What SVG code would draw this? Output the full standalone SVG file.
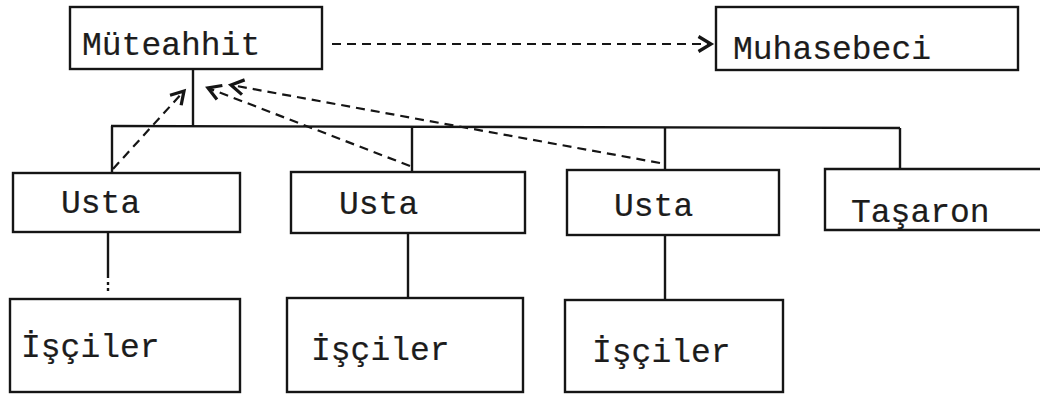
<svg xmlns="http://www.w3.org/2000/svg" width="1040" height="397" viewBox="0 0 1040 397">
  <style>
    .box { fill: none; stroke: #151515; stroke-width: 2.4; }
    .lbl { font-family: "Liberation Mono", "Courier New", monospace; font-size: 33px; fill: #1c1c1c; stroke: #1c1c1c; stroke-width: 0.2; }
    .link { fill: none; stroke: #151515; stroke-width: 2.4; }
    .dash { fill: none; stroke: #151515; stroke-width: 2.2; stroke-dasharray: 9 6; }
  </style>
  <defs>
    <marker id="chev" markerUnits="userSpaceOnUse" markerWidth="20" markerHeight="20" viewBox="-12 -8 16 16" refX="0" refY="0" orient="auto">
      <path d="M -10 -6 L 0 0 L -10 6" fill="none" stroke="#151515" stroke-width="2.6"/>
    </marker>
  </defs>

  <rect width="1040" height="397" fill="#ffffff"/>

  <!-- tree connectors and dashed reporting lines -->
  <g id="connectors">
    <line class="link" x1="193" y1="69" x2="193" y2="127"/>
    <line class="link" x1="111" y1="126" x2="900" y2="128"/>
    <line class="link" x1="112" y1="126" x2="112" y2="173"/>
    <line class="link" x1="412" y1="127" x2="412" y2="171"/>
    <line class="link" x1="665" y1="128" x2="665" y2="170"/>
    <line class="link" x1="900" y1="128" x2="900" y2="169"/>
    <line class="link" x1="108" y1="233" x2="108" y2="278"/>
    <line class="link" x1="108" y1="282" x2="108" y2="294" stroke-dasharray="3 3"/>
    <line class="link" x1="408" y1="234" x2="408" y2="297"/>
    <line class="link" x1="665" y1="235" x2="665" y2="299"/>
    <line class="dash" x1="332" y1="44" x2="711" y2="44" marker-end="url(#chev)"/>
    <line class="dash" x1="113" y1="169" x2="184" y2="91" marker-end="url(#chev)"/>
    <line class="dash" x1="410" y1="166" x2="208" y2="88" marker-end="url(#chev)"/>
    <line class="dash" x1="660" y1="163" x2="231" y2="85" marker-end="url(#chev)"/>
  </g>

  <g id="muteahhit">
    <rect class="box" x="70" y="7" width="252" height="62"/>
    <text class="lbl" x="82" y="55">Müteahhit</text>
  </g>
  <g id="muhasebeci">
    <rect class="box" x="716" y="7" width="302" height="63"/>
    <text class="lbl" x="733" y="59">Muhasebeci</text>
  </g>

  <g id="usta-1">
    <rect class="box" x="13" y="173" width="227" height="59"/>
    <text class="lbl" x="61" y="213">Usta</text>
  </g>
  <g id="usta-2">
    <rect class="box" x="291" y="172" width="234" height="61"/>
    <text class="lbl" x="339" y="214">Usta</text>
  </g>
  <g id="usta-3">
    <rect class="box" x="567" y="170" width="212" height="65"/>
    <text class="lbl" x="614" y="216">Usta</text>
  </g>
  <g id="tasaron">
    <path class="box" d="M 1042 169 L 825 169 L 825 230 L 1042 230"/>
    <text class="lbl" x="851" y="222">Taşaron</text>
  </g>

  <g id="isciler-1">
    <rect class="box" x="10" y="299" width="230" height="93"/>
    <text class="lbl" x="21" y="357">İşçiler</text>
  </g>
  <g id="isciler-2">
    <rect class="box" x="287" y="298" width="236" height="94"/>
    <text class="lbl" x="311" y="360">İşçiler</text>
  </g>
  <g id="isciler-3">
    <rect class="box" x="565" y="300" width="218" height="92"/>
    <text class="lbl" x="592" y="362">İşçiler</text>
  </g>
</svg>
